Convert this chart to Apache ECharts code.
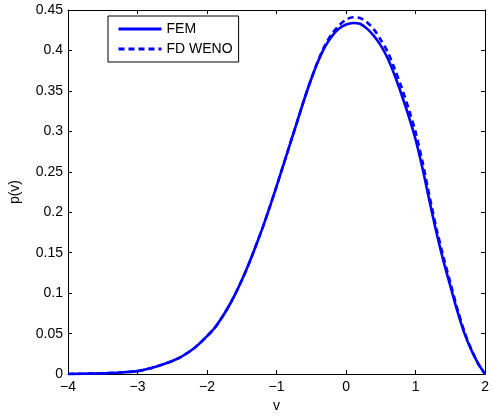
<!DOCTYPE html>
<html>
<head>
<meta charset="utf-8">
<script src="https://cdn.jsdelivr.net/npm/echarts@6/dist/echarts.min.js"></script>
<style>html,body{margin:0;padding:0;background:#fff;}#c{width:492px;height:418px;}</style>
</head>
<body>
<div id="c"></div>
<script>
var vValues = [-4.0,-3.8,-3.6,-3.4,-3.2,-3.0,-2.8,-2.6,-2.4,-2.2,-2.1,-2.0,-1.9,-1.8,-1.7,-1.6,-1.5,-1.4,-1.3,-1.2,-1.1,-1.0,-0.9,-0.8,-0.7,-0.6,-0.5,-0.4,-0.3,-0.2,-0.1,0.0,0.1,0.2,0.3,0.4,0.5,0.6,0.7,0.8,0.9,1.0,1.1,1.2,1.3,1.4,1.5,1.6,1.7,1.8,1.9,2.0];
var femValues = [0.0002,0.0004,0.0008,0.0013,0.0022,0.0037,0.0075,0.013,0.020,0.031,0.0385,0.047,0.056,0.068,0.082,0.098,0.116,0.136,0.158,0.181,0.206,0.232,0.259,0.286,0.313,0.340,0.365,0.387,0.405,0.418,0.427,0.432,0.434,0.433,0.427,0.418,0.406,0.390,0.369,0.345,0.319,0.290,0.254,0.214,0.175,0.140,0.109,0.078,0.051,0.030,0.013,0.0];
var wenoValues = [0.0002,0.0004,0.0008,0.0013,0.0022,0.0037,0.0075,0.013,0.020,0.031,0.0385,0.047,0.056,0.068,0.082,0.098,0.116,0.136,0.158,0.181,0.206,0.232,0.259,0.286,0.313,0.340,0.365,0.388,0.407,0.421,0.431,0.438,0.441,0.440,0.435,0.426,0.413,0.398,0.377,0.354,0.328,0.299,0.262,0.220,0.180,0.145,0.113,0.081,0.053,0.031,0.013,0.0];
var seriesNames = ['FEM','FD WENO'];
var xTicks = {min:-4, max:2, interval:1};
var yTicks = {min:0, max:0.45, interval:0.05};

function pairs(xs, ys){ return xs.map(function(x,i){ return [x, ys[i]]; }); }
var font = 'Liberation Sans, Arial, Helvetica, sans-serif';
var chart = echarts.init(document.getElementById('c'), null, {renderer:'canvas'});
var axisCommon = {
  axisLine:{show:true, onZero:false, lineStyle:{color:'#000', width:1}},
  axisTick:{show:true, inside:true, length:4, lineStyle:{color:'#000'}},
  splitLine:{show:false}
};
chart.setOption({
  animation:false,
  backgroundColor:'#fff',
  grid:{left:67, right:4, top:10, bottom:40, containLabel:false},
  legend:{
    left:108, top:16, orient:'vertical',
    data:seriesNames,
    itemWidth:43, itemHeight:14, itemGap:6,
    padding:[6,6,6,9],
    borderColor:'#000', borderWidth:1, backgroundColor:'#fff',
    itemStyle:{opacity:0, borderWidth:0},
    lineStyle:{width:3},
    textStyle:{fontFamily:font, fontSize:14, color:'#000'}
  },
  xAxis:[
    Object.assign({type:'value', position:'bottom', min:xTicks.min, max:xTicks.max, interval:xTicks.interval,
      name:'v', nameLocation:'middle', nameGap:24,
      nameTextStyle:{fontFamily:font, fontSize:14, color:'#000'},
      axisLabel:{fontFamily:font, fontSize:14, color:'#000', margin:6,
        formatter:function(v){ return v<0 ? '\u2212'+Math.abs(v) : String(v); }}}, axisCommon),
    Object.assign({type:'value', position:'top', min:xTicks.min, max:xTicks.max, interval:xTicks.interval,
      axisLabel:{show:false}}, axisCommon)
  ],
  yAxis:[
    Object.assign({type:'value', position:'left', min:yTicks.min, max:yTicks.max, interval:yTicks.interval,
      name:'p(v)', nameLocation:'middle', nameGap:46, nameRotate:90,
      nameTextStyle:{fontFamily:font, fontSize:14, color:'#000'},
      axisLabel:{fontFamily:font, fontSize:14, color:'#000', margin:5,
        formatter:function(v){ return String(Math.round(v*100)/100); }}}, axisCommon),
    Object.assign({type:'value', position:'right', min:yTicks.min, max:yTicks.max, interval:yTicks.interval,
      axisLabel:{show:false}}, axisCommon)
  ],
  series:[
    {name:seriesNames[0], type:'line', data:pairs(vValues, femValues), showSymbol:false, symbol:'none', smooth:0.3,
      lineStyle:{color:'#0000ff', width:2.6}, itemStyle:{color:'#0000ff'}},
    {name:seriesNames[1], type:'line', data:pairs(vValues, wenoValues), showSymbol:false, symbol:'none', smooth:0.3,
      lineStyle:{color:'#0000ff', width:2.6, type:[6,4]}, itemStyle:{color:'#0000ff'}}
  ]
});
</script>
</body>
</html>
